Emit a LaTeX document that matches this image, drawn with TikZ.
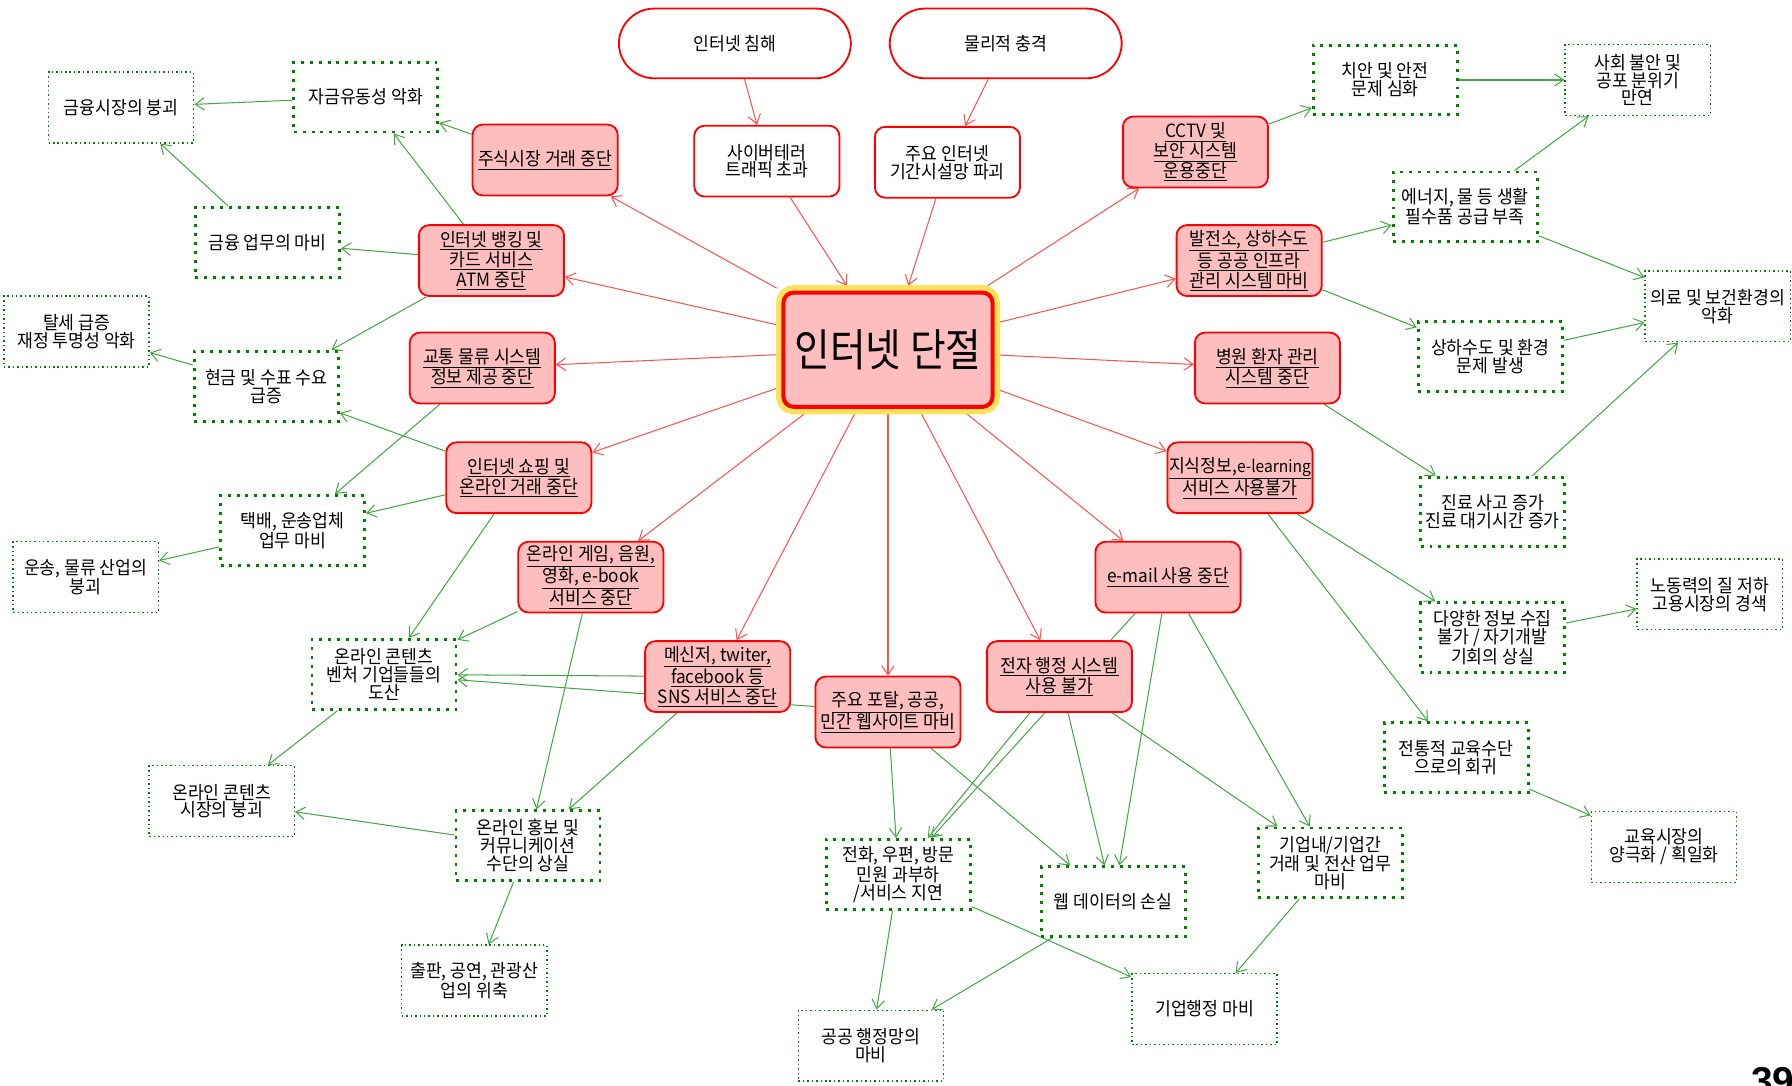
\documentclass[tikz,border=0pt]{standalone}
\usepackage{fontspec}
\usetikzlibrary{arrows.meta}
\setmainfont{Noto Sans CJK KR}[FakeStretch=0.94]
\newfontfamily\corefont{Noto Sans CJK KR}[FakeStretch=0.87]
\newfontfamily\pagefont{Liberation Sans}
\definecolor{pinkfill}{RGB}{255,190,190}
\definecolor{boxred}{RGB}{255,0,0}
\definecolor{linkred}{RGB}{255,80,80}
\definecolor{linkgreen}{RGB}{70,165,70}
\definecolor{dotgreen}{RGB}{0,128,0}
\definecolor{halo}{RGB}{255,226,90}
\newcommand\boxfont{\fontsize{16}{15.6}\selectfont}
\newcommand\ul[1]{\underline{#1}}
\pgfdeclarelayer{links}
\pgfsetlayers{links,main}
\tikzset{
  cause/.style={draw=boxred, line width=1.6pt, fill=white, rounded corners=31pt,
    minimum width=203pt, minimum height=61pt, font=\boxfont},
  causebox/.style={draw=boxred, line width=1.6pt, fill=white, rounded corners=9pt,
    minimum width=127pt, minimum height=62pt, align=center, font=\boxfont},
  effect/.style={draw=boxred, line width=1.6pt, fill=pinkfill, rounded corners=9pt,
    minimum width=127pt, minimum height=62pt, align=center, font=\boxfont, inner sep=1pt},
  core/.style={draw=boxred, line width=3.5pt, fill=pinkfill, rounded corners=9pt,
    minimum width=183pt, minimum height=100pt, font=\corefont\fontsize{39}{42}\selectfont,
    preaction={draw=halo, line width=13pt}, outer sep=6pt},
  major/.style={draw=dotgreen, line width=2.6pt, dash pattern=on 2.6pt off 5.2pt,
    fill=white, minimum width=126pt, minimum height=61pt, align=center, font=\boxfont, inner sep=1pt},
  minor/.style={draw=dotgreen, line width=1.3pt, dash pattern=on 1.3pt off 2.6pt,
    fill=white, minimum width=127pt, minimum height=62pt, align=center, font=\boxfont, inner sep=1pt},
  redlink/.style={draw=linkred, line width=0.9pt, -{Straight Barb[length=8pt,width=11pt]}},
  greenlink/.style={draw=linkgreen, line width=0.9pt, -{Straight Barb[length=8pt,width=11pt]}},
}
\begin{document}
\begin{tikzpicture}[x=1pt, y=-1pt]
\useasboundingbox (0,0) rectangle (1568,950);

% causes
\node[cause] (hack) at (643,38) {인터넷 침해};
\node[cause] (phys) at (880,38) {물리적 충격};
\node[causebox] (cyber) at (671,141) {사이버테러\\트래픽 초과};
\node[causebox] (infra) at (829,142) {주요 인터넷\\기간시설망 파괴};

% central event
\node[core] (core) at (777,306) {인터넷 단절};

% direct consequences
\node[effect] (stock) at (477,140) {\ul{주식시장 거래 중단}};
\node[effect] (bank) at (430,228) {\ul{인터넷 뱅킹 및}\\\ul{카드 서비스}\\\ul{ATM 중단}};
\node[effect] (traffic) at (422,322) {\ul{교통 물류 시스템}\\\ul{정보 제공 중단}};
\node[effect] (shop) at (454,418) {\ul{인터넷 쇼핑 및}\\\ul{온라인 거래 중단}};
\node[effect] (game) at (517,505) {\ul{온라인 게임, 음원,}\\\ul{영화, e-book}\\\ul{서비스 중단}};
\node[effect] (sns) at (628,592) {\ul{메신저, twiter,}\\\ul{facebook 등}\\\ul{SNS 서비스 중단}};
\node[effect] (portal) at (777,623) {\ul{주요 포탈, 공공,}\\\ul{민간 웹사이트 마비}};
\node[effect] (egov) at (927,592) {\ul{전자 행정 시스템}\\\ul{사용 불가}};
\node[effect] (email) at (1022,505) {\ul{e-mail 사용 중단}};
\node[effect] (know) at (1085,418) {\ul{지식정보,{\fontsize{14.5}{15.6}\selectfont e-learning}}\\\ul{서비스 사용불가}};
\node[effect] (hosp) at (1109,322) {\ul{병원 환자 관리}\\\ul{시스템 중단}};
\node[effect] (power) at (1093,228) {\ul{발전소, 상하수도}\\\ul{등 공공 인프라}\\\ul{관리 시스템 마비}};
\node[effect] (cctv) at (1046,133) {\ul{CCTV 및}\\\ul{보안 시스템}\\\ul{운용중단}};

% secondary effects, left side
\node[minor] (fmkt) at (106,94) {금융시장의 붕괴};
\node[major] (liq) at (320,85) {자금유동성 악화};
\node[major] (fwork) at (234,212) {금융 업무의 마비};
\node[minor] (tax) at (67,290) {탈세 급증\\재정 투명성 악화};
\node[major] (cash) at (233,338) {현금 및 수표 수요\\급증};
\node[major] (deliv) at (256,464) {택배, 운송업체\\업무 마비};
\node[minor] (trans) at (75,505) {운송, 물류 산업의\\붕괴};
\node[major] (venture) at (336,590) {온라인 콘텐츠\\벤처 기업들들의\\도산};
\node[minor] (cmkt) at (194,701) {온라인 콘텐츠\\시장의 붕괴};
\node[major] (promo) at (462,740) {온라인 홍보 및\\커뮤니케이션\\수단의 상실};
\node[minor] (pub) at (415,858) {출판, 공연, 관광산\\업의 위축};

% secondary effects, bottom
\node[major] (phone) at (786,765) {전화, 우편, 방문\\민원 과부하\\/서비스 지연};
\node[major] (webdata) at (974,789) {웹 데이터의 손실};
\node[major] (corp) at (1164,755) {기업내/기업간\\거래 및 전산 업무\\마비};
\node[minor] (pubnet) at (762,915) {공공 행정망의\\마비};
\node[minor] (corpadmin) at (1054,883) {기업행정 마비};

% secondary effects, right side
\node[major] (safety) at (1212,70) {치안 및 안전\\문제 심화};
\node[minor] (social) at (1433,70) {사회 불안 및\\공포 분위기\\만연};
\node[major] (energy) at (1282,181) {에너지, 물 등 생활\\필수품 공급 부족};
\node[minor] (medical) at (1503,268) {의료 및 보건환경의\\악화};
\node[major] (water) at (1304,312) {상하수도 및 환경\\문제 발생};
\node[major] (clinic) at (1306,448) {진료 사고 증가\\진료 대기시간 증가};
\node[major] (info) at (1306,558) {다양한 정보 수집\\불가 / 자기개발\\기회의 상실};
\node[minor] (labor) at (1496,520) {노동력의 질 저하\\고용시장의 경색};
\node[major] (trad) at (1274,663) {전통적 교육수단\\으로의 회귀};
\node[minor] (edu) at (1456,741) {교육시장의\\양극화 / 획일화};

% page number
\begin{scope}
\clip (0,0) rectangle (1568,950);
\node[anchor=base west, inner sep=0pt, font=\pagefont\bfseries\fontsize{34}{34}\selectfont] (page) at (1532,958) {39};
\end{scope}

\begin{pgfonlayer}{links}
% causal chain into the outage
\draw[redlink] (hack) -- (cyber);
\draw[redlink] (phys) -- (infra);
\draw[redlink] (cyber) -- (core);
\draw[redlink] (infra) -- (core);
% outage to direct consequences
\foreach \t in {stock,bank,traffic,shop,game,sns,portal,egov,email,know,hosp,power,cctv}
  \draw[redlink] (core) -- (\t);
% consequences to secondary effects
\foreach \a/\b in {liq/fmkt, fwork/fmkt, stock/liq, bank/liq, bank/fwork, bank/cash,
  cash/tax, shop/cash, traffic/deliv, shop/deliv, deliv/trans, shop/venture,
  game/venture, sns/venture, portal/venture, game/promo, sns/promo, venture/cmkt,
  promo/cmkt, promo/pub, portal/phone, portal/webdata, egov/phone, email/phone,
  egov/webdata, email/webdata, egov/corp, email/corp, phone/pubnet, webdata/pubnet,
  phone/corpadmin, corp/corpadmin, cctv/safety, safety/social, energy/social,
  power/energy, power/water, energy/medical, water/medical, clinic/medical,
  hosp/clinic, know/info, know/trad, info/labor, trad/edu}
  \draw[greenlink] (\a) -- (\b);
\end{pgfonlayer}
\end{tikzpicture}
\end{document}
